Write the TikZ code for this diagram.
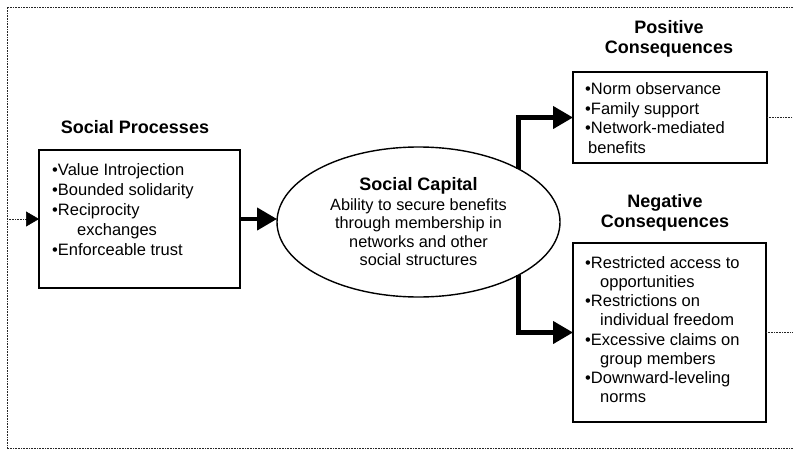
\documentclass[tikz,border=0pt]{standalone}
\usepackage{fontspec}
\setmainfont{Liberation Sans}
\usetikzlibrary{arrows.meta,shapes.geometric,calc}
\begin{document}
\begin{tikzpicture}[x=1pt,y=-1pt,
  frame/.style={line width=0.7pt, dash pattern=on 0.8pt off 0.8pt, black!85},
  boxshape/.style={draw, line width=1.6pt, inner sep=0pt, outer sep=0pt},
  txt/.style={anchor=north west, inner sep=0pt, align=left, font=\fontsize{16.5}{#1}\selectfont},
  ttl/.style={font=\fontsize{18}{20.5}\selectfont\bfseries, align=center, inner sep=0pt},
  bigarrow/.style={line width=4.3pt, -{Triangle[length=20pt,width=22pt]}},
  tiponly/.style={line width=0.5pt, black, -{Triangle[length=13pt,width=15pt]}},
]
\useasboundingbox (0,0) rectangle (793,450);
% frame
\coordinate (ftr) at (793,7);
\coordinate (ftl) at (7,7);
\coordinate (fbl) at (7,448.5);
\coordinate (fbr) at (793,448.5);
\draw[frame] (ftr) -- (ftl) -- (fbl) -- (fbr);

% boxes
\node[boxshape, minimum width=201pt, minimum height=138pt] (proc) at (139.5,219) {};
\node[boxshape, minimum width=194pt, minimum height=91pt] (pos) at (670,117.5) {};
\node[boxshape, minimum width=193pt, minimum height=179pt] (neg) at (669.5,332.5) {};
\node[draw, ellipse, line width=1.4pt, minimum width=283pt, minimum height=150pt, inner sep=0pt, outer sep=0pt] (cap) at (418.5,222) {};

% titles
\node[ttl, anchor=base] (proct) at (135,133.5) {Social Processes};
\node[ttl, anchor=north] (post) at (669,20) {Positive\\Consequences};
\node[ttl, anchor=north] (negt) at (665,194) {Negative\\Consequences};
\node[ttl, anchor=base] (capt) at (418.5,190) {Social Capital};

% texts
\node[txt=20] (proctx) at (52,163.2) {•Value Introjection\\•Bounded solidarity\\•Reciprocity\\\hspace*{25pt}exchanges\\•Enforceable trust};
\node[txt=19.5] (postx) at (585,82.7) {•Norm observance\\•Family support\\•Network-mediated\\\hspace*{3pt}benefits};
\node[txt=19.2] (negtx) at (585,256.2) {•Restricted access to\\\hspace*{15pt}opportunities\\•Restrictions on\\\hspace*{15pt}individual freedom\\•Excessive claims on\\\hspace*{15pt}group members\\•Downward-leveling\\\hspace*{15pt}norms};
\node[anchor=north, inner sep=0pt, align=center, font=\fontsize{16.3}{18.5}\selectfont] (captx) at (418.5,198.2) {Ability to secure benefits\\through membership in\\networks and other\\social structures};

% connectors
\coordinate (inL) at (7,219);
\draw[frame] (inL) -- (proc.west);
\draw[tiponly] ($(proc.west)+(-13,0)$) -- (proc.west);
\draw[bigarrow] (proc.east) -- (proc.east -| cap.west);
\draw[bigarrow] (cap.28) |- (pos.west);
\draw[bigarrow] (cap.-28) |- (neg.west);
\coordinate (outP) at (793,117.5);
\coordinate (outN) at (793,332.5);
\draw[frame] (pos.east) -- (outP);
\draw[frame] (neg.east) -- (outN);
\end{tikzpicture}
\end{document}
